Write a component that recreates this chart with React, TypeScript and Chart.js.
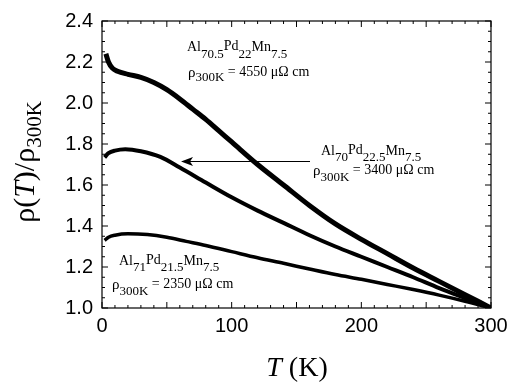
import React, { useEffect, useRef } from "react";
import { Chart, registerables } from "chart.js";

Chart.register(...registerables);

// ---- axis ranges & tick labels ----
const xMin = 0;
const xMax = 300;
const yMin = 1.0;
const yMax = 2.4;
const xTickLabels = [0, 100, 200, 300];
const yTickLabels = [1.0, 1.2, 1.4, 1.6, 1.8, 2.0, 2.2, 2.4];
const xMinorStep = 10;
const xMajorStep = 50;
const yMinorStep = 0.05;
const yMajorStep = 0.2;

// ---- series: Al70.5Pd22Mn7.5 (rho300K = 4550 µΩ cm) ----
const tempA = [3, 5, 8, 12, 20, 30, 40, 50, 60, 70, 80, 90, 100, 120, 140, 160, 180, 200, 220, 240, 260, 280, 300];
const rhoA = [2.24, 2.2, 2.17, 2.155, 2.14, 2.125, 2.1, 2.065, 2.02, 1.97, 1.92, 1.865, 1.81, 1.7, 1.6, 1.5, 1.41, 1.335, 1.265, 1.195, 1.13, 1.065, 1.0];

// ---- series: Al70Pd22.5Mn7.5 (rho300K = 3400 µΩ cm) ----
const tempB = [2, 5, 10, 18, 30, 45, 60, 80, 100, 120, 140, 160, 180, 200, 220, 240, 260, 280, 300];
const rhoB = [1.735, 1.755, 1.768, 1.775, 1.765, 1.737, 1.685, 1.612, 1.54, 1.475, 1.415, 1.355, 1.3, 1.25, 1.2, 1.15, 1.097, 1.048, 1.0];

// ---- series: Al71Pd21.5Mn7.5 (rho300K = 2350 µΩ cm) ----
const tempC = [2, 5, 10, 20, 35, 50, 65, 80, 100, 120, 140, 160, 180, 200, 220, 240, 260, 280, 300];
const rhoC = [1.33, 1.345, 1.355, 1.362, 1.358, 1.345, 1.325, 1.305, 1.275, 1.245, 1.218, 1.19, 1.163, 1.14, 1.115, 1.09, 1.063, 1.033, 1.0];

const SERIF = '"Liberation Serif", "Times New Roman", serif';
const SANS = '"Liberation Sans", Arial, sans-serif';

type Seg = [string, number, number, string?];

function drawRich(ctx: CanvasRenderingContext2D, x: number, y: number, segs: Seg[]) {
  let cx = x;
  for (const [t, dy, size, style] of segs) {
    ctx.font = `${style ?? ""} ${size}px ${SERIF}`;
    ctx.fillText(t, cx, y + dy);
    cx += ctx.measureText(t).width;
  }
}

function richWidth(ctx: CanvasRenderingContext2D, segs: Seg[]) {
  let w = 0;
  for (const [t, , size, style] of segs) {
    ctx.font = `${style ?? ""} ${size}px ${SERIF}`;
    w += ctx.measureText(t).width;
  }
  return w;
}

const decorPlugin = {
  id: "decor",
  beforeDatasetsDraw(chart: any) {
    const { ctx, chartArea: a, scales } = chart;
    const x = scales.x;
    const y = scales.y;
    ctx.save();
    ctx.strokeStyle = "#000";
    ctx.lineWidth = 1.2;
    ctx.strokeRect(a.left, a.top, a.right - a.left, a.bottom - a.top);
    ctx.lineWidth = 1;
    ctx.beginPath();
    const nx = Math.round((xMax - xMin) / xMinorStep);
    for (let i = 0; i <= nx; i++) {
      const t = xMin + i * xMinorStep;
      const px = x.getPixelForValue(t);
      const len = t % xMajorStep === 0 ? 6 : 3;
      ctx.moveTo(px, a.bottom);
      ctx.lineTo(px, a.bottom - len);
      ctx.moveTo(px, a.top);
      ctx.lineTo(px, a.top + len);
    }
    const ny = Math.round((yMax - yMin) / yMinorStep);
    const per = Math.round(yMajorStep / yMinorStep);
    for (let i = 0; i <= ny; i++) {
      const v = yMin + i * yMinorStep;
      const py = y.getPixelForValue(v);
      const len = i % per === 0 ? 6 : 3;
      ctx.moveTo(a.left, py);
      ctx.lineTo(a.left + len, py);
      ctx.moveTo(a.right, py);
      ctx.lineTo(a.right - len, py);
    }
    ctx.stroke();
    ctx.restore();
  },
  afterDatasetsDraw(chart: any) {
    const { ctx } = chart;
    ctx.save();
    ctx.fillStyle = "#000";
    ctx.strokeStyle = "#000";
    ctx.textAlign = "left";
    ctx.textBaseline = "alphabetic";

    // top curve label
    drawRich(ctx, 187, 51, [["Al", 0, 14], ["70.5", 7, 13], ["Pd", -1, 14], ["22", 7, 13], ["Mn", 0, 14], ["7.5", 7, 13]]);
    drawRich(ctx, 188, 77, [["ρ", 0, 15], ["300K", 4, 13], [" = 4550 μΩ cm", -1, 14]]);

    // middle curve label
    drawRich(ctx, 321, 155, [["Al", 0, 14], ["70", 6, 13], ["Pd", -1, 14], ["22.5", 6, 13], ["Mn", 0, 14], ["7.5", 6, 13]]);
    drawRich(ctx, 313, 175, [["ρ", 0, 15], ["300K", 6, 13], [" = 3400 μΩ cm", -1, 14]]);

    // bottom curve label
    drawRich(ctx, 119, 265, [["Al", 0, 14], ["71", 6, 13], ["Pd", -1, 14], ["21.5", 6, 13], ["Mn", 0, 14], ["7.5", 6, 13]]);
    drawRich(ctx, 112, 289, [["ρ", 0, 15], ["300K", 6, 13], [" = 2350 μΩ cm", -1, 14]]);

    // arrow
    ctx.lineWidth = 1;
    ctx.beginPath();
    ctx.moveTo(310, 161.5);
    ctx.lineTo(186, 161.5);
    ctx.stroke();
    ctx.beginPath();
    ctx.moveTo(181, 161.5);
    ctx.lineTo(193, 157);
    ctx.lineTo(190, 161.5);
    ctx.lineTo(193, 166);
    ctx.closePath();
    ctx.fill();

    // y axis title (rotated)
    const ySegs: Seg[] = [["ρ(", 0, 30], ["T", 0, 30, "italic"], [")/ρ", 0, 30], ["300K", 7, 21]];
    ctx.save();
    ctx.translate(34, 162);
    ctx.rotate(-Math.PI / 2);
    const yw = richWidth(ctx, ySegs);
    drawRich(ctx, -yw / 2, 0, ySegs);
    ctx.restore();

    // x axis title
    const xSegs: Seg[] = [["T", 0, 28, "italic"], [" (K)", 0, 28]];
    const xw = richWidth(ctx, xSegs);
    drawRich(ctx, 297 - xw / 2, 376, xSegs);

    ctx.restore();
  },
};

export default function App() {
  const ref = useRef<HTMLCanvasElement | null>(null);
  useEffect(() => {
    if (!ref.current) return;
    const mk = (ts: number[], vs: number[]) => ts.map((t, i) => ({ x: t, y: vs[i] }));
    const chart = new Chart(ref.current, {
      type: "line",
      data: {
        datasets: [
          { label: "Al70.5Pd22Mn7.5", data: mk(tempA, rhoA), borderColor: "#000", borderWidth: 5, pointRadius: 0, cubicInterpolationMode: "monotone", fill: false },
          { label: "Al70Pd22.5Mn7.5", data: mk(tempB, rhoB), borderColor: "#000", borderWidth: 4, pointRadius: 0, cubicInterpolationMode: "monotone", fill: false },
          { label: "Al71Pd21.5Mn7.5", data: mk(tempC, rhoC), borderColor: "#000", borderWidth: 3.5, pointRadius: 0, cubicInterpolationMode: "monotone", fill: false },
        ],
      },
      options: {
        animation: false,
        responsive: true,
        maintainAspectRatio: false,
        layout: { padding: { top: 19, right: 25, left: 0, bottom: 0 } },
        plugins: { legend: { display: false }, tooltip: { enabled: false } },
        scales: {
          x: {
            type: "linear",
            min: xMin,
            max: xMax,
            afterBuildTicks: (s: any) => { s.ticks = xTickLabels.map((v) => ({ value: v })); },
            afterFit: (s: any) => { s.height = 80; },
            grid: { display: false, drawTicks: false },
            border: { display: false },
            ticks: { color: "#000", font: { family: SANS, size: 20 }, padding: 6, maxRotation: 0, callback: (v: any) => String(v) },
          },
          y: {
            type: "linear",
            min: yMin,
            max: yMax,
            afterBuildTicks: (s: any) => { s.ticks = yTickLabels.map((v) => ({ value: v })); },
            afterFit: (s: any) => { s.width = 102; },
            grid: { display: false, drawTicks: false },
            border: { display: false },
            ticks: { color: "#000", font: { family: SANS, size: 20 }, padding: 9, callback: (v: any) => Number(v).toFixed(1) },
          },
        },
      },
      plugins: [decorPlugin],
    });
    return () => chart.destroy();
  }, []);
  return (
    <div style={{ position: "fixed", left: 0, top: 0, width: 516, height: 388, background: "#fff" }}>
      <canvas ref={ref} />
    </div>
  );
}
